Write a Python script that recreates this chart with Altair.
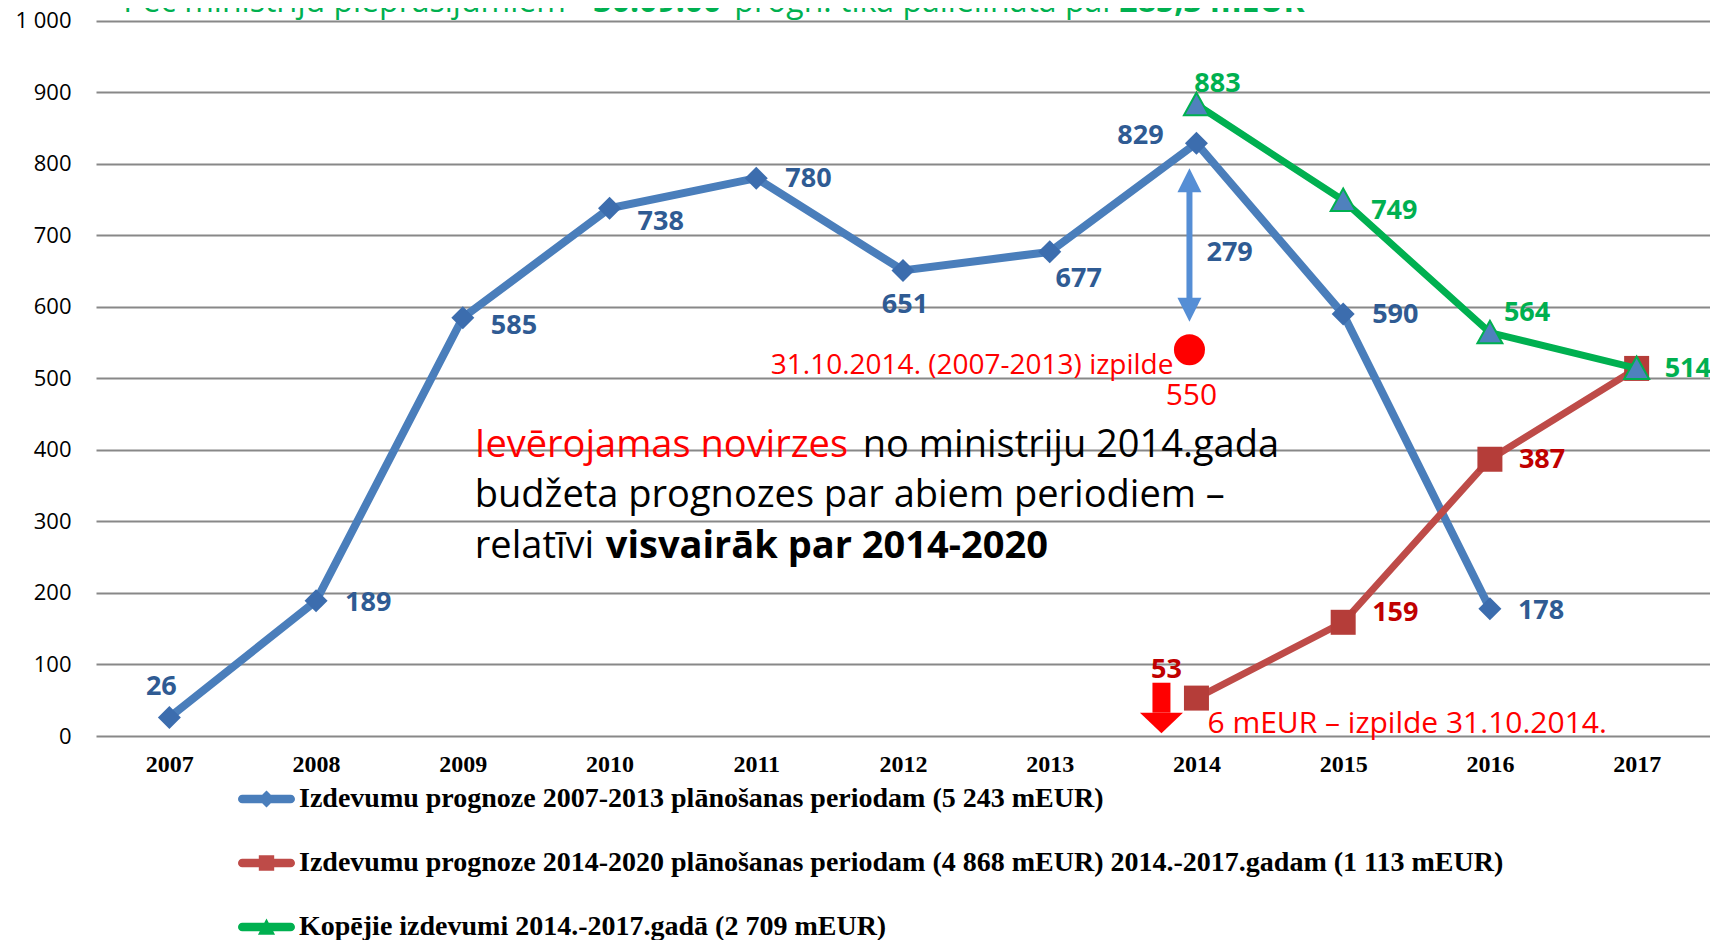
import altair as alt
import pandas as pd

# ---------------- data ----------------
years = ["2007", "2008", "2009", "2010", "2011", "2012", "2013", "2014", "2015", "2016", "2017"]
blue_years = ["2007", "2008", "2009", "2010", "2011", "2012", "2013", "2014", "2015", "2016"]
blue_values = [26, 189, 585, 738, 780, 651, 677, 829, 590, 178]
red_years = ["2014", "2015", "2016", "2017"]
red_values = [53, 159, 387, 514]
green_years = ["2014", "2015", "2016", "2017"]
green_values = [883, 749, 564, 514]
series_names = [
    "Izdevumu prognoze 2007-2013 plānošanas periodam (5 243 mEUR)",
    "Izdevumu prognoze 2014-2020 plānošanas periodam (4 868 mEUR) 2014.-2017.gadam (1 113 mEUR)",
    "Kopējie izdevumi 2014.-2017.gadā (2 709 mEUR)",
]
y_ticks = [0, 100, 200, 300, 400, 500, 600, 700, 800, 900, 1000]

exec_year = "2014"
exec_2007_2013_value = 550          # label of the red dot
exec_2007_2013_drawn = 540          # where the dot sits on the picture
gap_value = 279
arrow_top, arrow_bottom = 777, 596
down_arrow_top, down_arrow_bottom, down_head = 74.5, 32.6, 18.2
exec_2007_2013_text = "31.10.2014. (2007-2013) izpilde"
exec_2014_text = "6 mEUR – izpilde 31.10.2014."
note_line1_red = "Ievērojamas novirzes"
note_line1_black = "no ministriju 2014.gada"
note_line2 = "budžeta prognozes par abiem periodiem –"
note_line3_a = "relatīvi"
note_line3_b = "visvairāk par 2014-2020"
title_parts = ["Pēc ministriju pieprasījumiem", "30.09.00", "progn. tika palielināta par", "285,3 mEUR"]

# ---------------- style ----------------
SANS = "Open Sans"
SERIF = "Liberation Serif"
BLUE_LINE = "#4A7EBB"
BLUE_MARK = "#3C6DAE"
BLUE_TXT = "#2F5B93"
RED_LINE = "#BE4B48"
RED_MARK = "#B53D39"
RED_TXT = "#C00000"
GREEN = "#00B050"
TRI_FILL = "#4F81BD"
ARROW_BLUE = "#558ED5"
RED = "#FF0000"
GRID = "#888888"

TRI_PATH = "M0,-0.95L1,0.85L-1,0.85Z"
UP_HEAD = "M0,-1L1,1L-1,1Z"
DOWN_HEAD = "M0,1L1,-1L-1,-1Z"
WIDE_DOWN = "M-1,-0.48L1,-0.48L0,0.48Z"
BAR = "M-0.847,-0.153L0.847,-0.153A0.153,0.153 0 0 1 0.847,0.153L-0.847,0.153A0.153,0.153 0 0 1 -0.847,-0.153Z"
LEG_BLUE = BAR + "M0,-0.3L0.3,0L0,0.3L-0.3,0Z"
LEG_RED = BAR + "M-0.27,-0.27L0.27,-0.27L0.27,0.27L-0.27,0.27Z"
LEG_GREEN = BAR + "M0,-0.3L0.3,0.27L-0.3,0.27Z"

xs = alt.Scale(domain=years, type="point", padding=0.5)
ys = alt.Scale(domain=[0, 1018], nice=False, zero=True)
xaxis = alt.Axis(title=None, domain=False, ticks=False, tickSize=0, labelPadding=28,
                 labelBaseline="middle", labelFont=SERIF, labelFontWeight="bold",
                 labelFontSize=24, labelColor="black", grid=False, labelAngle=0)
yaxis = alt.Axis(title=None, values=y_ticks, domain=False, ticks=False, tickSize=0,
                 labelPadding=25, labelFont=SANS, labelFontSize=22, labelColor="black",
                 grid=True, gridColor=GRID, gridWidth=2,
                 labelExpr="datum.value == 1000 ? '1 000' : datum.label")
X = alt.X("year:N", scale=xs, axis=xaxis)
Y = alt.Y("v:Q", scale=ys, axis=yaxis)

blue_df = pd.DataFrame({"year": blue_years, "v": blue_values})
red_df = pd.DataFrame({"year": red_years, "v": red_values})
green_df = pd.DataFrame({"year": green_years, "v": green_values})

layers = []

# legend (dummy invisible layer carrying the legend)
leg_df = pd.DataFrame({"s": series_names, "year": [years[0]] * 3, "v": [0, 0, 0]})
leg_kw = dict(orient="none", legendX=142, legendY=762.5, direction="vertical", title=None,
              labelFont=SERIF, labelFontWeight="bold", labelFontSize=28, labelColor="black",
              labelLimit=3000, symbolSize=3249, symbolStrokeWidth=0, symbolOpacity=1,
              rowPadding=21, labelOffset=4, padding=0, offset=0)
layers.append(
    alt.Chart(leg_df).mark_point(opacity=0, filled=True).encode(
        x=X, y=Y,
        color=alt.Color("s:N", scale=alt.Scale(domain=series_names, range=[BLUE_LINE, RED_LINE, GREEN]),
                        legend=alt.Legend(**leg_kw)),
        shape=alt.Shape("s:N", scale=alt.Scale(domain=series_names, range=[LEG_BLUE, LEG_RED, LEG_GREEN]),
                        legend=alt.Legend(**leg_kw)),
    )
)

# series
layers.append(alt.Chart(blue_df).mark_line(color=BLUE_LINE, strokeWidth=8).encode(x=X, y=Y))
layers.append(alt.Chart(blue_df).mark_point(shape="diamond", filled=True, size=530, color=BLUE_MARK, opacity=1).encode(x=X, y=Y))
layers.append(alt.Chart(red_df).mark_line(color=RED_LINE, strokeWidth=7).encode(x=X, y=Y))
layers.append(alt.Chart(red_df).mark_point(shape="square", filled=True, size=625, color=RED_MARK, opacity=1).encode(x=X, y=Y))
layers.append(alt.Chart(green_df).mark_line(color=GREEN, strokeWidth=7).encode(x=X, y=Y))
layers.append(alt.Chart(green_df).mark_point(shape=TRI_PATH, filled=True, size=625, fill=TRI_FILL,
                                             stroke=GREEN, strokeWidth=2, opacity=1).encode(x=X, y=Y))

# value labels
blue_place = {"2007": (-8, -30, "center"), "2008": (29, 2, "left"), "2009": (28, 8, "left"),
              "2010": (28, 14, "left"), "2011": (29, 1, "left"), "2012": (2, 35, "center"),
              "2013": (29, 27, "center"), "2014": (-56, -7, "center"), "2015": (29, 1, "left"),
              "2016": (28, 2, "left")}
green_place = {"2014": (21, -21, "center"), "2015": (28, 11, "left"), "2016": (14, -20, "left"),
               "2017": (28, 1, "left")}
red_place = {"2014": (-30, -28, "center"), "2015": (29, -9, "left"), "2016": (29, 1, "left")}

for df, place, col in [(blue_df, blue_place, BLUE_TXT), (green_df, green_place, GREEN), (red_df, red_place, RED_TXT)]:
    for yr, (dx, dy, al) in place.items():
        layers.append(
            alt.Chart(df).transform_filter(alt.datum.year == yr).mark_text(
                dx=dx, dy=dy, align=al, baseline="middle", font=SANS, fontWeight="bold",
                fontSize=27, color=col
            ).encode(x=X, y=Y, text=alt.Text("v:Q"))
        )

# 2007-2013 execution marker and gap arrow
layers.append(alt.Chart(pd.DataFrame({"year": [exec_year], "v": [arrow_top], "v2": [arrow_bottom]}))
              .mark_rule(color=ARROW_BLUE, strokeWidth=6, xOffset=-7)
              .encode(x=X, y=Y, y2=alt.Y2("v2:Q")))
layers.append(alt.Chart(pd.DataFrame({"year": [exec_year], "v": [arrow_top]}))
              .mark_point(shape=UP_HEAD, filled=True, size=576, color=ARROW_BLUE, opacity=1, xOffset=-7)
              .encode(x=X, y=Y))
layers.append(alt.Chart(pd.DataFrame({"year": [exec_year], "v": [arrow_bottom]}))
              .mark_point(shape=DOWN_HEAD, filled=True, size=576, color=ARROW_BLUE, opacity=1, xOffset=-7)
              .encode(x=X, y=Y))
layers.append(alt.Chart(pd.DataFrame({"year": [exec_year], "v": [675], "t": [str(gap_value)]}))
              .mark_text(dx=10, align="left", baseline="middle", font=SANS, fontWeight="bold",
                         fontSize=27, color=BLUE_TXT)
              .encode(x=X, y=Y, text="t:N"))
layers.append(alt.Chart(pd.DataFrame({"year": [exec_year], "v": [exec_2007_2013_drawn]}))
              .mark_point(shape="circle", filled=True, size=962, color=RED, opacity=1, xOffset=-7)
              .encode(x=X, y=Y))
layers.append(alt.Chart(pd.DataFrame({"year": [exec_year], "v": [463], "t": [str(exec_2007_2013_value)]}))
              .mark_text(dx=-5, align="center", baseline="alphabetic", font=SANS, fontSize=30, color=RED)
              .encode(x=X, y=Y, text="t:N"))
layers.append(alt.Chart(pd.DataFrame({"year": [exec_year], "v": [506.7], "t": [exec_2007_2013_text]}))
              .mark_text(dx=-23, align="right", baseline="alphabetic", font=SANS, fontSize=28, color=RED)
              .encode(x=X, y=Y, text="t:N"))

# 2014 red down arrow and execution text
layers.append(alt.Chart(pd.DataFrame({"year": [exec_year], "v": [down_arrow_top], "v2": [down_arrow_bottom]}))
              .mark_rule(color=RED, strokeWidth=18, xOffset=-35, strokeCap="butt")
              .encode(x=X, y=Y, y2=alt.Y2("v2:Q")))
layers.append(alt.Chart(pd.DataFrame({"year": [exec_year], "v": [down_head]}))
              .mark_point(shape=WIDE_DOWN, filled=True, size=1849, color=RED, opacity=1, xOffset=-35)
              .encode(x=X, y=Y))
layers.append(alt.Chart(pd.DataFrame({"year": [exec_year], "v": [3.7], "t": [exec_2014_text]}))
              .mark_text(dx=11, align="left", baseline="alphabetic", font=SANS, fontSize=30, color=RED)
              .encode(x=X, y=Y, text="t:N"))

# big note
note_rows = [
    (note_line1_red, 390, 12, RED, "normal"),
    (note_line1_black, 390, 400, "black", "normal"),
    (note_line2, 320, 12, "black", "normal"),
    (note_line3_a, 249, 12, "black", "normal"),
    (note_line3_b, 249, 143, "black", "bold"),
]
for t, v, dx, col, w in note_rows:
    layers.append(alt.Chart(pd.DataFrame({"year": ["2009"], "v": [v], "t": [t]}))
                  .mark_text(dx=dx, align="left", baseline="alphabetic", font=SANS, fontSize=38,
                             fontWeight=w, color=col)
                  .encode(x=X, y=Y, text="t:N"))

# clipped green heading at the very top
title_dx = [-46, 424, 565, 950]
title_w = ["normal", "bold", "normal", "bold"]
for t, dx, w in zip(title_parts, title_dx, title_w):
    layers.append(alt.Chart(pd.DataFrame({"year": ["2007"], "v": [1012.4], "t": [t]}))
                  .mark_text(dx=dx, align="left", baseline="alphabetic", font=SANS, fontSize=32,
                             fontWeight=w, color=GREEN, clip=True)
                  .encode(x=X, y=Y, text="t:N"))

chart = alt.layer(*layers).properties(
    width=1614, height=728,
    padding={"left": 88, "top": 0, "right": 0, "bottom": 204},
    autosize=alt.AutoSizeParams(type="none"),
    background="white",
).configure_view(stroke=None)

chart.save("out.html", embed_options={"renderer": "svg", "actions": False})
